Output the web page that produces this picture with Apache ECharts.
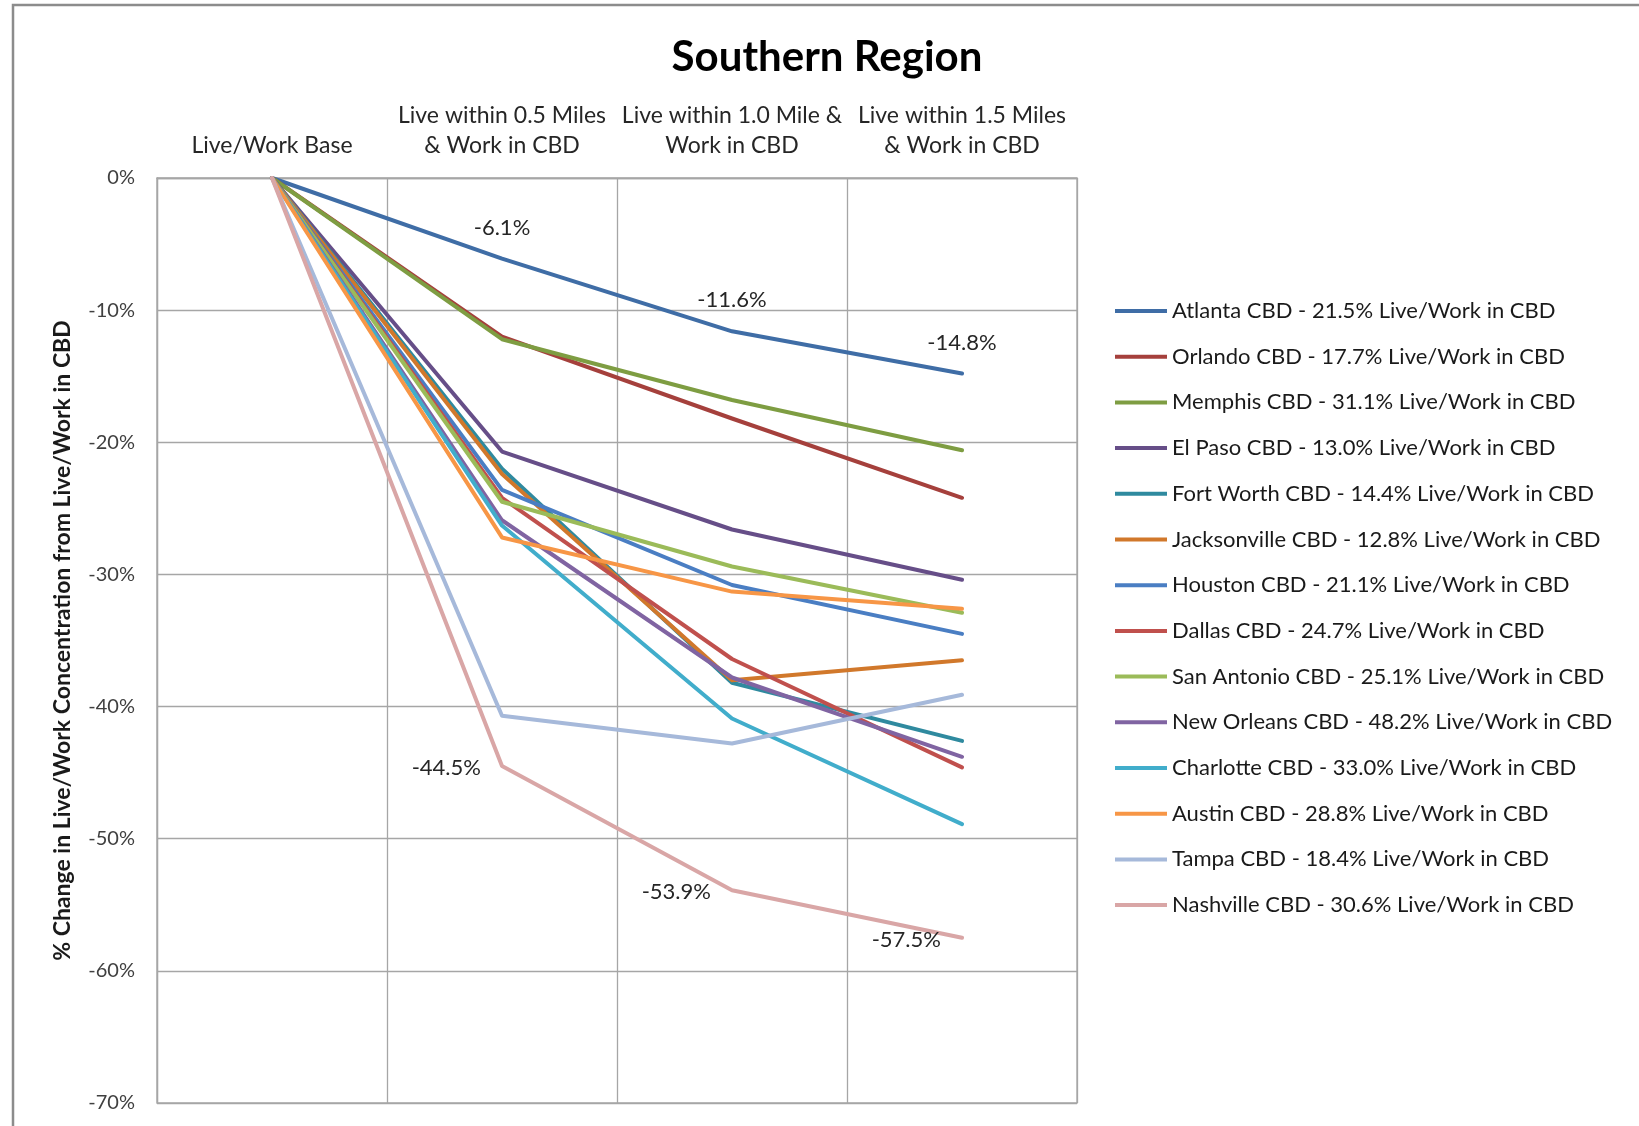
<!DOCTYPE html>
<html>
<head>
<meta charset="utf-8">
<title>Southern Region</title>
<script src="https://cdn.jsdelivr.net/npm/echarts@6/dist/echarts.min.js"></script>
<style>
  html, body { margin: 0; padding: 0; background: #fff; }
  #chart { width: 1639px; height: 1126px; }
</style>
</head>
<body>
<div id="chart"></div>
<script>
// Distance bands, left to right
const categories = [
  'Live/Work Base',
  'Live within 0.5 Miles\n& Work in CBD',
  'Live within 1.0 Mile &\nWork in CBD',
  'Live within 1.5 Miles\n& Work in CBD'
];

// Y-axis ticks (percent change)
const yTicks = [0, -10, -20, -30, -40, -50, -60, -70];

// Series names as shown in the legend
const cityNames = [
  'Atlanta CBD - 21.5% Live/Work in CBD',
  'Orlando CBD - 17.7% Live/Work in CBD',
  'Memphis CBD - 31.1% Live/Work in CBD',
  'El Paso CBD - 13.0% Live/Work in CBD',
  'Fort Worth CBD - 14.4% Live/Work in CBD',
  'Jacksonville CBD - 12.8% Live/Work in CBD',
  'Houston CBD - 21.1% Live/Work in CBD',
  'Dallas CBD - 24.7% Live/Work in CBD',
  'San Antonio CBD - 25.1% Live/Work in CBD',
  'New Orleans CBD - 48.2% Live/Work in CBD',
  'Charlotte CBD - 33.0% Live/Work in CBD',
  'Austin CBD - 28.8% Live/Work in CBD',
  'Tampa CBD - 18.4% Live/Work in CBD',
  'Nashville CBD - 30.6% Live/Work in CBD'
];

// % change from the live/work base, one array per CBD
const atlanta      = [0, -6.1, -11.6, -14.8];
const orlando      = [0, -12.0, -18.2, -24.2];
const memphis      = [0, -12.2, -16.8, -20.6];
const elPaso       = [0, -20.7, -26.6, -30.4];
const fortWorth    = [0, -22.0, -38.2, -42.6];
const jacksonville = [0, -22.4, -38.0, -36.5];
const houston      = [0, -23.6, -30.8, -34.5];
const dallas       = [0, -24.2, -36.4, -44.6];
const sanAntonio   = [0, -24.5, -29.4, -32.9];
const newOrleans   = [0, -25.9, -37.8, -43.8];
const charlotte    = [0, -26.3, -40.9, -48.9];
const austin       = [0, -27.2, -31.3, -32.6];
const tampa        = [0, -40.7, -42.8, -39.1];
const nashville    = [0, -44.5, -53.9, -57.5];

const seriesValues = [
  atlanta, orlando, memphis, elPaso, fortWorth, jacksonville, houston,
  dallas, sanAntonio, newOrleans, charlotte, austin, tampa, nashville
];

const lineColors = [
  '#3F6DA6', '#A5403C', '#7E9D42', '#664E88', '#2F8A9F', '#D1782B', '#4A7EC3',
  '#C0504D', '#9BBB59', '#8064A2', '#41ADCB', '#F79646', '#A6B9DA', '#D9A6A6'
];

// Series whose values are printed next to the line, and where
const labelledSeries = { 0: 'top', 13: 'left' };

const FONT = 'Lato, "Open Sans", sans-serif';

const series = seriesValues.map((vals, i) => {
  const pos = labelledSeries[i];
  return {
    name: cityNames[i],
    type: 'line',
    data: vals.map((v, j) => ({
      value: v,
      label: {
        show: pos !== undefined && j > 0,
        position: pos || 'top',
        distance: pos === 'left' ? 21 : 20,
        offset: pos === 'left' ? [0, 2] : [0, 0],
        formatter: (p) => p.value.toFixed(1) + '%',
        fontFamily: FONT,
        fontSize: 22,
        color: '#262626'
      }
    })),
    // tiny symbols so the value labels have an anchor
    showSymbol: true,
    symbol: 'circle',
    symbolSize: 0.1,
    lineStyle: { width: 4, color: lineColors[i], cap: 'round', join: 'round' },
    itemStyle: { color: lineColors[i] },
    emphasis: { disabled: true },
    animation: false
  };
});

const chart = echarts.init(document.getElementById('chart'), null, { renderer: 'canvas' });

chart.setOption({
  backgroundColor: '#ffffff',
  animation: false,
  title: {
    text: 'Southern Region',
    left: 822,
    top: 31,
    textAlign: 'center',
    textStyle: { fontFamily: FONT, fontSize: 42, fontWeight: 'bold', color: '#000' }
  },
  graphic: [{
    type: 'rect',
    shape: { x: 13, y: 5, width: 1700, height: 1200 },
    style: { fill: 'none', stroke: '#8c8c8c', lineWidth: 2.5 },
    silent: true,
    z: -1
  }],
  legend: {
    orient: 'vertical',
    left: 1110,
    top: 294,
    itemWidth: 52,
    itemHeight: 4,
    itemGap: 21.7,
    icon: 'rect',
    selectedMode: false,
    data: cityNames,
    textStyle: { fontFamily: FONT, fontSize: 22, lineHeight: 24, color: '#1a1a1a' }
  },
  grid: {
    left: 157,
    right: 562,
    top: 178,
    bottom: 23,
    show: true,
    borderColor: '#a6a6a6',
    borderWidth: 1.3
  },
  xAxis: {
    type: 'category',
    position: 'top',
    data: categories,
    boundaryGap: true,
    axisLine: { show: true, lineStyle: { color: '#a6a6a6', width: 1.3 } },
    axisTick: { show: false },
    axisLabel: {
      interval: 0,
      margin: 17,
      fontFamily: FONT,
      fontSize: 23,
      lineHeight: 30,
      color: '#262626'
    },
    splitLine: { show: true, interval: 0, lineStyle: { color: '#a6a6a6', width: 1.3 } }
  },
  yAxis: {
    type: 'value',
    min: yTicks[yTicks.length - 1],
    max: yTicks[0],
    interval: 10,
    name: '% Change in Live/Work Concentration from Live/Work in CBD',
    nameLocation: 'middle',
    nameRotate: 90,
    nameGap: 83,
    nameTextStyle: { fontFamily: FONT, fontSize: 23, fontWeight: 'bold', color: '#1a1a1a' },
    axisLine: { show: true, lineStyle: { color: '#a6a6a6', width: 1.3 } },
    axisTick: { show: false },
    axisLabel: {
      margin: 22,
      fontFamily: FONT,
      fontSize: 20,
      color: '#404040',
      formatter: (v) => (v === 0 ? '0' : v) + '%'
    },
    splitLine: { show: true, lineStyle: { color: '#a6a6a6', width: 1.3 } }
  },
  series: series
});
</script>
</body>
</html>
